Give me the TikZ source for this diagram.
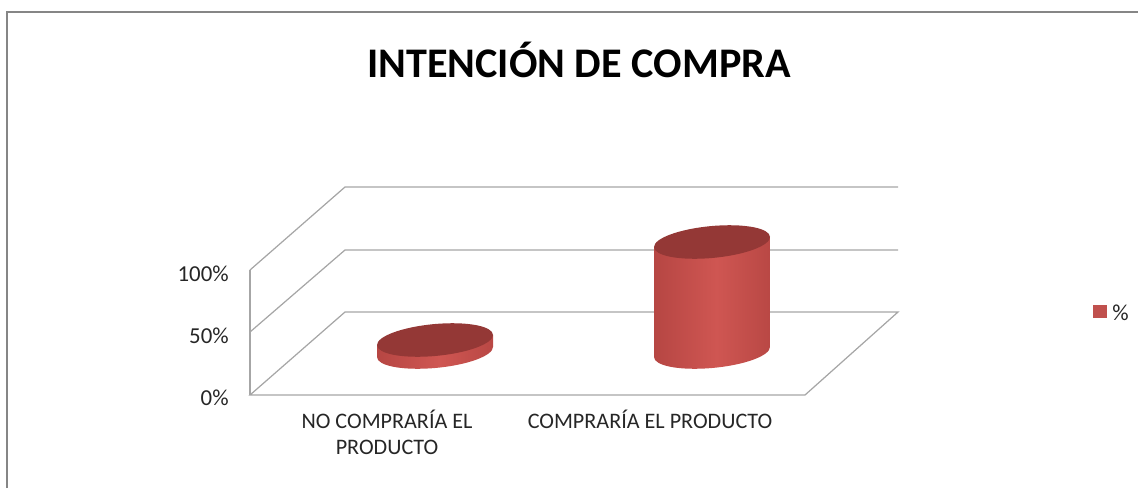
\documentclass[tikz,border=0pt]{standalone}
\usepackage{fontspec}
\setmainfont{Carlito}
\usetikzlibrary{calc}
\definecolor{gridgray}{RGB}{166,166,166}
\definecolor{framegray}{RGB}{134,134,134}
\definecolor{barred}{RGB}{192,80,77}
\definecolor{bartopred}{RGB}{148,56,54}
\definecolor{barlight}{RGB}{207,86,82}
\definecolor{barmid}{RGB}{182,70,67}
\definecolor{bardark}{RGB}{140,50,48}
\definecolor{barshade}{RGB}{112,37,36}
\pgfdeclarehorizontalshading{cylside}{100bp}{color(0bp)=(bardark); color(25bp)=(barmid); color(52bp)=(barlight); color(78bp)=(barmid); color(100bp)=(barshade)}
\tikzset{
  frame/.style={draw=framegray, line width=1.1pt},
  gridline/.style={draw=gridgray, line width=0.7pt},
  ticklabel/.style={text=black!85, inner sep=0pt, font=\fontsize{13}{15}\selectfont},
  catlabel/.style={text=black!85, inner sep=0pt, align=center, font=\fontsize{12.6}{14.8}\selectfont},
  charttitle/.style={text=black, inner sep=0pt, font=\fontsize{24}{28}\selectfont\bfseries},
  barside/.style={shading=cylside},
  bartop/.style={fill=bartopred}
}

\begin{document}
\begin{tikzpicture}[x=0.02cm, y=0.02cm]
  \useasboundingbox (0,0) rectangle (1138,488);
  % frame
  \draw[frame] (7,0) -- (7,476) -- (1138,476);
  % walls and floor
  \coordinate (F0) at (250,93);
  \coordinate (F50) at (250,156);
  \coordinate (F100) at (250,218);
  \coordinate (B0) at (345,176);
  \coordinate (B50) at (345,238);
  \coordinate (B100) at (345,301);
  \coordinate (R0) at (898,176);
  \coordinate (R50) at (898,238);
  \coordinate (R100) at (898,301);
  \coordinate (FR) at (805,93);
  \draw[gridline] (F0) -- (F100);
  \draw[gridline] (F100) -- (B100) -- (R100);
  \draw[gridline] (F50) -- (B50) -- (R50);
  \draw[gridline] (F0) -- (B0) -- (R0) -- (FR) -- cycle;
  % bar: no compraria
  \begin{scope}[shift={(435,136)}, yslant=0.087]
    \shade[barside] (-58,12) -- (-58,0) arc[start angle=180, end angle=360, x radius=58, y radius=16] -- (58,12) -- cycle;
    \fill[bartop] (0,12) ellipse [x radius=58, y radius=16];
  \end{scope}
  % bar: compraria
  \begin{scope}[shift={(712,136)}, yslant=0.087]
    \shade[barside] (-58,110) -- (-58,0) arc[start angle=180, end angle=360, x radius=58, y radius=16] -- (58,110) -- cycle;
    \fill[bartop] (0,110) ellipse [x radius=58, y radius=16];
  \end{scope}
  % labels
  \node[charttitle, anchor=base] (title) at (579,411) {INTENCIÓN DE COMPRA};
  \node[ticklabel, anchor=base east] (t0) at (229,83) {0\%};
  \node[ticklabel, anchor=base east] (t50) at (229,145) {50\%};
  \node[ticklabel, anchor=base east] (t100) at (229,207) {100\%};
  \node[catlabel, anchor=north] (c1) at (387,78) {NO COMPRARÍA EL\\PRODUCTO};
  \node[catlabel, anchor=north] (c2) at (650,78) {COMPRARÍA EL PRODUCTO};
  % legend
  \fill[barred] (1093,170) rectangle (1107,183);
  \node[ticklabel, anchor=base west] (leg) at (1112,168) {\%};
\end{tikzpicture}
\end{document}
